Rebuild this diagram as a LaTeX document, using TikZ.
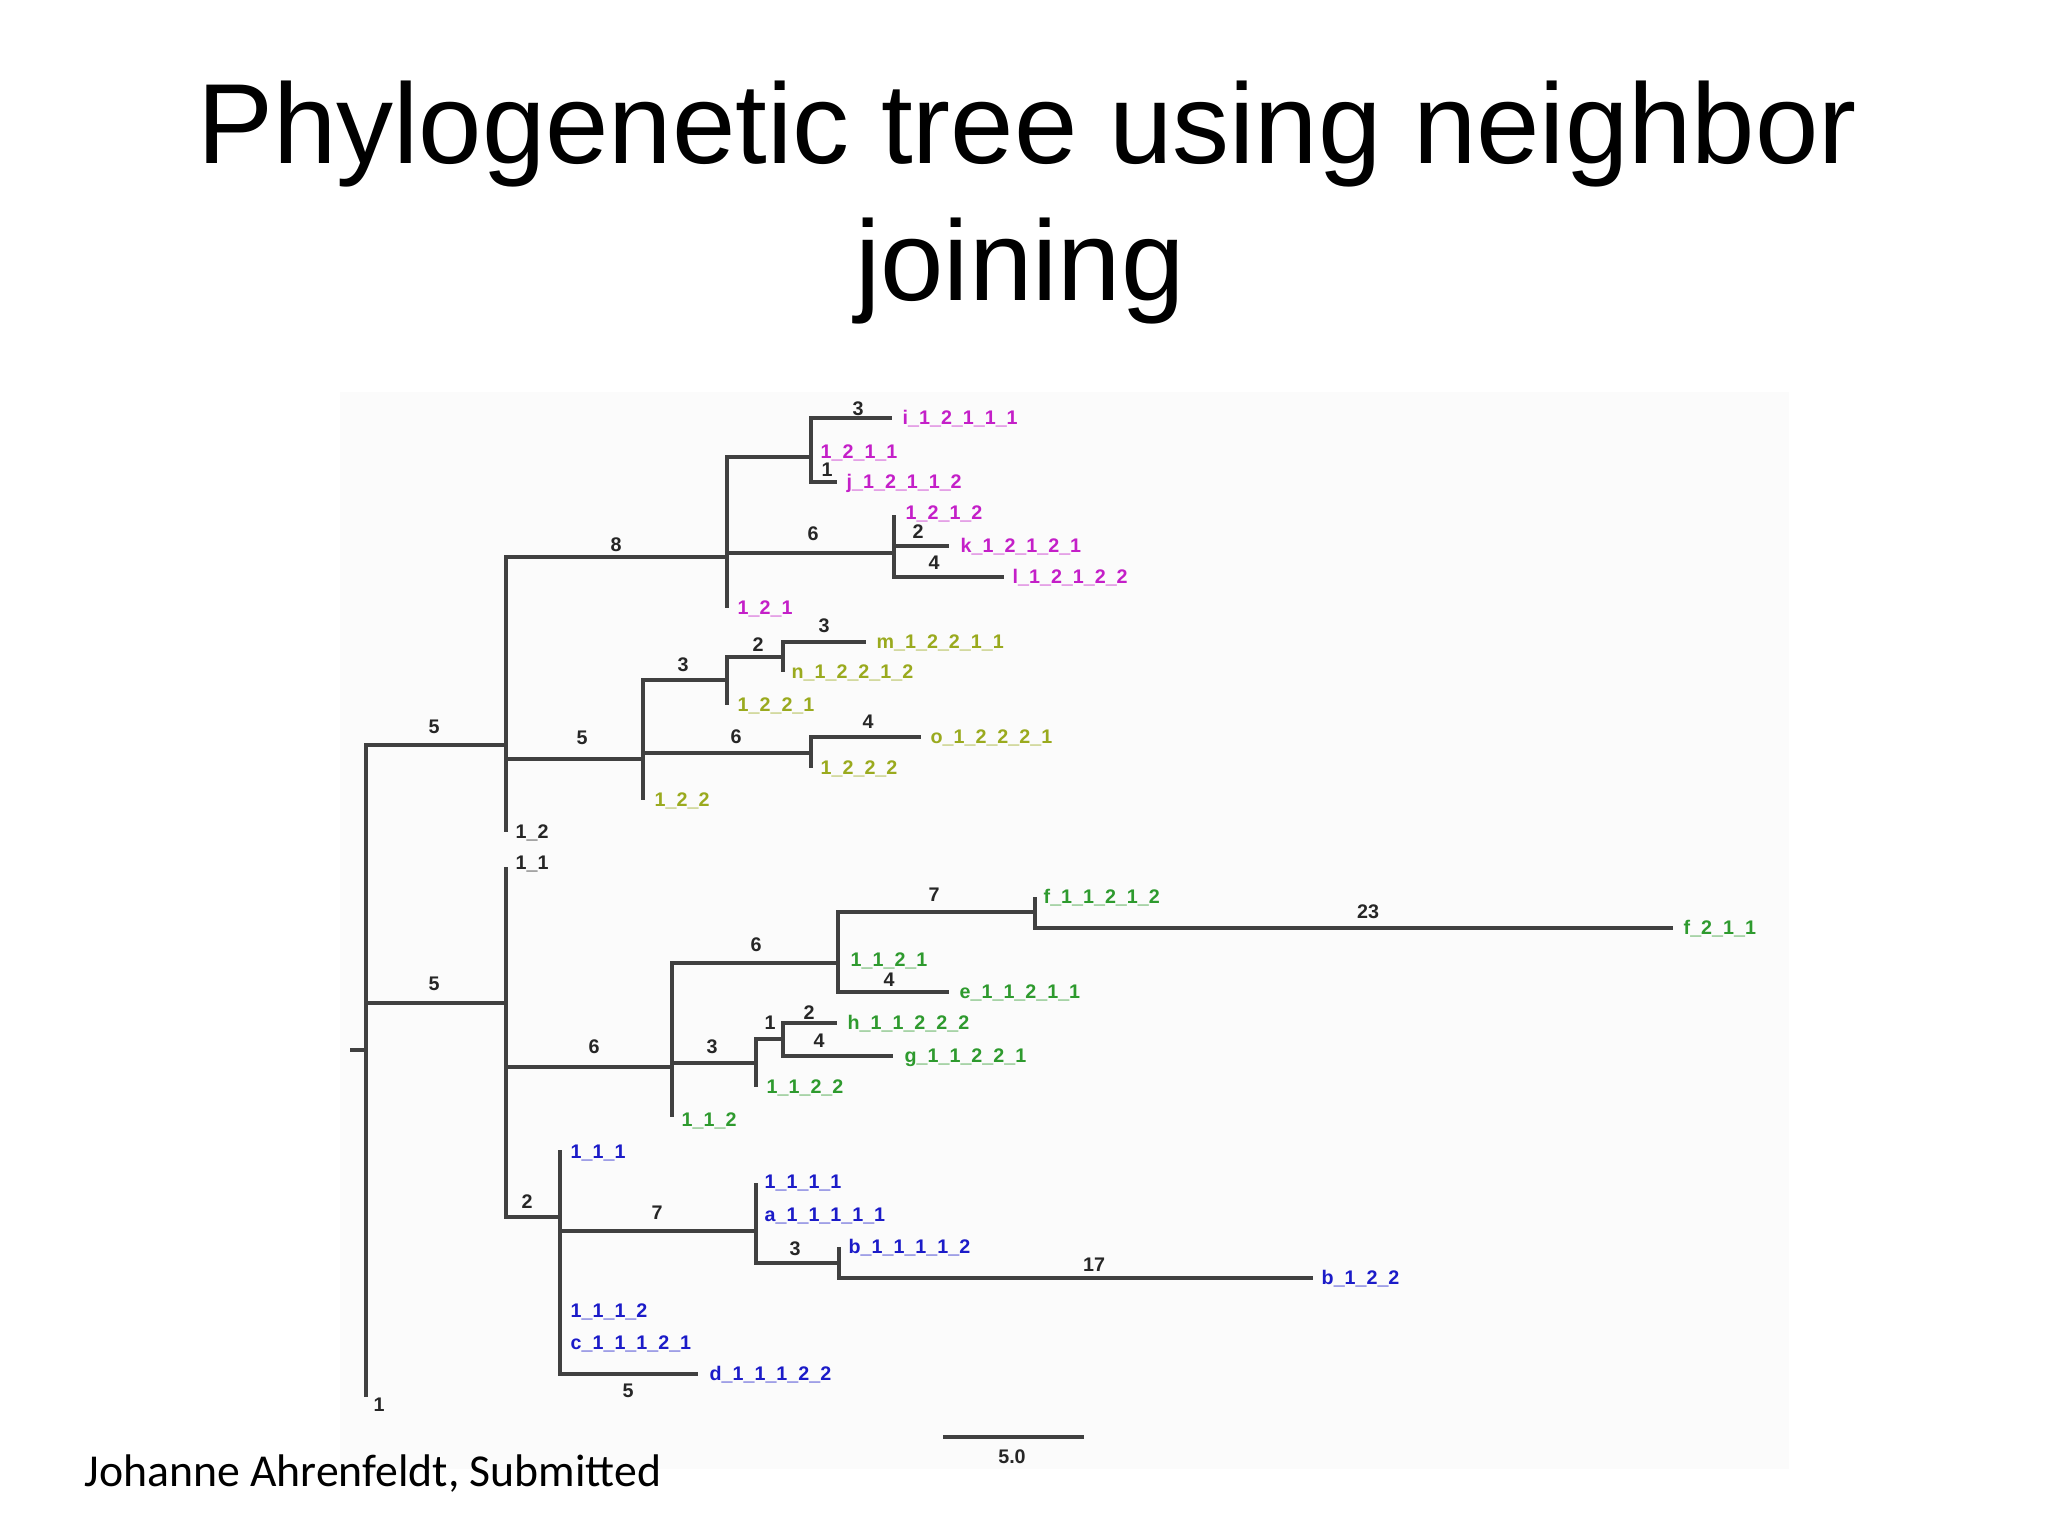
\documentclass[tikz,border=0pt]{standalone}
\usepackage{fontspec}
\setmainfont{Liberation Sans}
\newfontfamily\footfont{Carlito}
\newfontfamily\treefont{Liberation Sans}
\definecolor{pinkc}{HTML}{C41FC8}
\definecolor{olivec}{HTML}{9AAA1E}
\definecolor{greenc}{HTML}{2E9A2E}
\definecolor{bluec}{HTML}{1B1BC8}
\definecolor{edgec}{HTML}{404040}
\begin{document}
\begin{tikzpicture}[x=0.01cm,y=-0.01cm,
  edge/.style={draw=edgec, line width=1pt},
  lab/.style={font=\treefont\bfseries\fontsize{5.6pt}{6pt}\selectfont, inner sep=0pt, anchor=base west, yshift=-0.068cm},
  num/.style={font=\treefont\bfseries\fontsize{5.6pt}{6pt}\selectfont, inner sep=0pt, anchor=base, yshift=-0.068cm, text=black!85},
  pk/.style={lab, text=pinkc},
  ol/.style={lab, text=olivec},
  gr/.style={lab, text=greenc},
  bl/.style={lab, text=bluec},
  bk/.style={lab, text=black!85}]
\useasboundingbox (0,0) rectangle (2048,1536);
\fill[black!1.5] (340,392) rectangle (1789,1469);

% titles
\node[anchor=base, inner sep=0pt, font=\fontsize{32.4pt}{38pt}\selectfont] (title1) at (1027,163) {Phylogenetic tree using neighbor};
\node[anchor=base, inner sep=0pt, font=\fontsize{32.4pt}{38pt}\selectfont] (title2) at (1020,300) {joining};
\node[anchor=base west, inner sep=0pt, font=\footfont\fontsize{13pt}{15pt}\selectfont] (foot) at (84,1486) {Johanne Ahrenfeldt, Submitted};

% coordinates of tree nodes
\coordinate (root) at (366,1050);
\coordinate (tick) at (350,1050);
\coordinate (rootend) at (366,1397);
\coordinate (n12) at (506,745);
\coordinate (e12) at (506,832);
\coordinate (P) at (727,557);
\coordinate (p121) at (727,608);
\coordinate (Q) at (811,457);
\coordinate (ti) at (892,418);
\coordinate (tj) at (837,482);
\coordinate (R) at (894,553);
\coordinate (r1212) at (894,515);
\coordinate (tk) at (949,546);
\coordinate (tl) at (1004,577);
\coordinate (S) at (643,759);
\coordinate (s122) at (643,800);
\coordinate (T) at (727,680);
\coordinate (t1221) at (727,705);
\coordinate (U) at (783,657);
\coordinate (tm) at (866,642);
\coordinate (tn) at (783,672);
\coordinate (V) at (811,753);
\coordinate (to) at (921,737);
\coordinate (v1222) at (811,768);
\coordinate (n11) at (506,1003);
\coordinate (e11) at (506,867);
\coordinate (W) at (672,1067);
\coordinate (w112) at (672,1117);
\coordinate (X) at (838,963);
\coordinate (Y) at (1035,912);
\coordinate (yf) at (1035,897);
\coordinate (tf) at (1673,928);
\coordinate (te) at (949,992);
\coordinate (Z) at (756,1063);
\coordinate (z1122) at (756,1087);
\coordinate (Z2) at (783,1039);
\coordinate (th) at (837,1023);
\coordinate (tg) at (893,1056);
\coordinate (AA) at (560,1217);
\coordinate (a111) at (560,1150);
\coordinate (td) at (698,1374);
\coordinate (BB) at (756,1231);
\coordinate (b1111) at (756,1183);
\coordinate (CC) at (839,1263);
\coordinate (cb) at (839,1247);
\coordinate (tb) at (1313,1278);
\coordinate (sb1) at (943,1437);
\coordinate (sb2) at (1084,1437);

% edges
\draw[edge] (tick) -- (root);
\draw[edge] (root) |- (n12);
\draw[edge] (root) |- (n11);
\draw[edge] (root) -- (rootend);
\draw[edge] (n12) |- (P);
\draw[edge] (n12) |- (S);
\draw[edge] (n12) -- (e12);
\draw[edge] (P) |- (Q);
\draw[edge] (P) |- (R);
\draw[edge] (P) -- (p121);
\draw[edge] (Q) |- (ti);
\draw[edge] (Q) |- (tj);
\draw[edge] (R) -- (r1212);
\draw[edge] (R) |- (tk);
\draw[edge] (R) |- (tl);
\draw[edge] (S) |- (T);
\draw[edge] (S) |- (V);
\draw[edge] (S) -- (s122);
\draw[edge] (T) |- (U);
\draw[edge] (T) -- (t1221);
\draw[edge] (U) |- (tm);
\draw[edge] (U) -- (tn);
\draw[edge] (V) |- (to);
\draw[edge] (V) -- (v1222);
\draw[edge] (n11) -- (e11);
\draw[edge] (n11) |- (W);
\draw[edge] (n11) |- (AA);
\draw[edge] (W) |- (X);
\draw[edge] (W) |- (Z);
\draw[edge] (W) -- (w112);
\draw[edge] (X) |- (Y);
\draw[edge] (X) |- (te);
\draw[edge] (Y) -- (yf);
\draw[edge] (Y) |- (tf);
\draw[edge] (Z) |- (Z2);
\draw[edge] (Z) -- (z1122);
\draw[edge] (Z2) |- (th);
\draw[edge] (Z2) |- (tg);
\draw[edge] (AA) -- (a111);
\draw[edge] (AA) |- (BB);
\draw[edge] (AA) |- (td);
\draw[edge] (BB) -- (b1111);
\draw[edge] (BB) |- (CC);
\draw[edge] (CC) -- (cb);
\draw[edge] (CC) |- (tb);
\draw[edge] (sb1) -- (sb2);

% branch lengths
\node[num] (l1) at (434,727) {5};
\node[num] (l2) at (434,984) {5};
\node[num] (l3) at (616,545) {8};
\node[num] (l4) at (858,409) {3};
\node[num] (l5) at (827,470) {1};
\node[num] (l6) at (813,534) {6};
\node[num] (l7) at (918,532) {2};
\node[num] (l8) at (934,563) {4};
\node[num] (l9) at (582,738) {5};
\node[num] (l10) at (683,665) {3};
\node[num] (l11) at (758,645) {2};
\node[num] (l12) at (824,626) {3};
\node[num] (l13) at (736,737) {6};
\node[num] (l14) at (868,722) {4};
\node[num] (l15) at (594,1047) {6};
\node[num] (l16) at (756,945) {6};
\node[num] (l17) at (934,895) {7};
\node[num] (l18) at (1368,912) {23};
\node[num] (l19) at (889,980) {4};
\node[num] (l20) at (712,1047) {3};
\node[num] (l21) at (770,1023) {1};
\node[num] (l22) at (809,1013) {2};
\node[num] (l23) at (819,1041) {4};
\node[num] (l24) at (527,1202) {2};
\node[num] (l25) at (657,1213) {7};
\node[num] (l26) at (795,1249) {3};
\node[num] (l27) at (1094,1265) {17};
\node[num] (l28) at (628,1391) {5};
\node[num] (l29) at (379,1405) {1};
\node[num] (l30) at (1012,1457) {5.0};

% taxon labels
\node[bk] (L12) at (515,832) {1\_2};
\node[bk] (L11) at (515,863) {1\_1};
\node[pk] (Li) at (902,418) {i\_1\_2\_1\_1\_1};
\node[pk] (L1211) at (820,452) {1\_2\_1\_1};
\node[pk] (Lj) at (846,482) {j\_1\_2\_1\_1\_2};
\node[pk] (L1212) at (905,513) {1\_2\_1\_2};
\node[pk] (Lk) at (960,546) {k\_1\_2\_1\_2\_1};
\node[pk] (Ll) at (1012,577) {l\_1\_2\_1\_2\_2};
\node[pk] (L121) at (737,608) {1\_2\_1};
\node[ol] (Lm) at (876,642) {m\_1\_2\_2\_1\_1};
\node[ol] (Ln) at (791,672) {n\_1\_2\_2\_1\_2};
\node[ol] (L1221) at (737,705) {1\_2\_2\_1};
\node[ol] (Lo) at (930,737) {o\_1\_2\_2\_2\_1};
\node[ol] (L1222) at (820,768) {1\_2\_2\_2};
\node[ol] (L122) at (654,800) {1\_2\_2};
\node[gr] (Lf) at (1043,897) {f\_1\_1\_2\_1\_2};
\node[gr] (Lf2) at (1683,928) {f\_2\_1\_1};
\node[gr] (L1121) at (850,960) {1\_1\_2\_1};
\node[gr] (Le) at (959,992) {e\_1\_1\_2\_1\_1};
\node[gr] (Lh) at (847,1023) {h\_1\_1\_2\_2\_2};
\node[gr] (Lg) at (904,1056) {g\_1\_1\_2\_2\_1};
\node[gr] (L1122) at (766,1087) {1\_1\_2\_2};
\node[gr] (L112) at (681,1120) {1\_1\_2};
\node[bl] (L111) at (570,1152) {1\_1\_1};
\node[bl] (L1111) at (764,1182) {1\_1\_1\_1};
\node[bl] (La) at (764,1215) {a\_1\_1\_1\_1\_1};
\node[bl] (Lb) at (848,1247) {b\_1\_1\_1\_1\_2};
\node[bl] (Lb2) at (1321,1278) {b\_1\_2\_2};
\node[bl] (L1112) at (570,1311) {1\_1\_1\_2};
\node[bl] (Lc) at (570,1343) {c\_1\_1\_1\_2\_1};
\node[bl] (Ld) at (709,1374) {d\_1\_1\_1\_2\_2};
\end{tikzpicture}
\end{document}
